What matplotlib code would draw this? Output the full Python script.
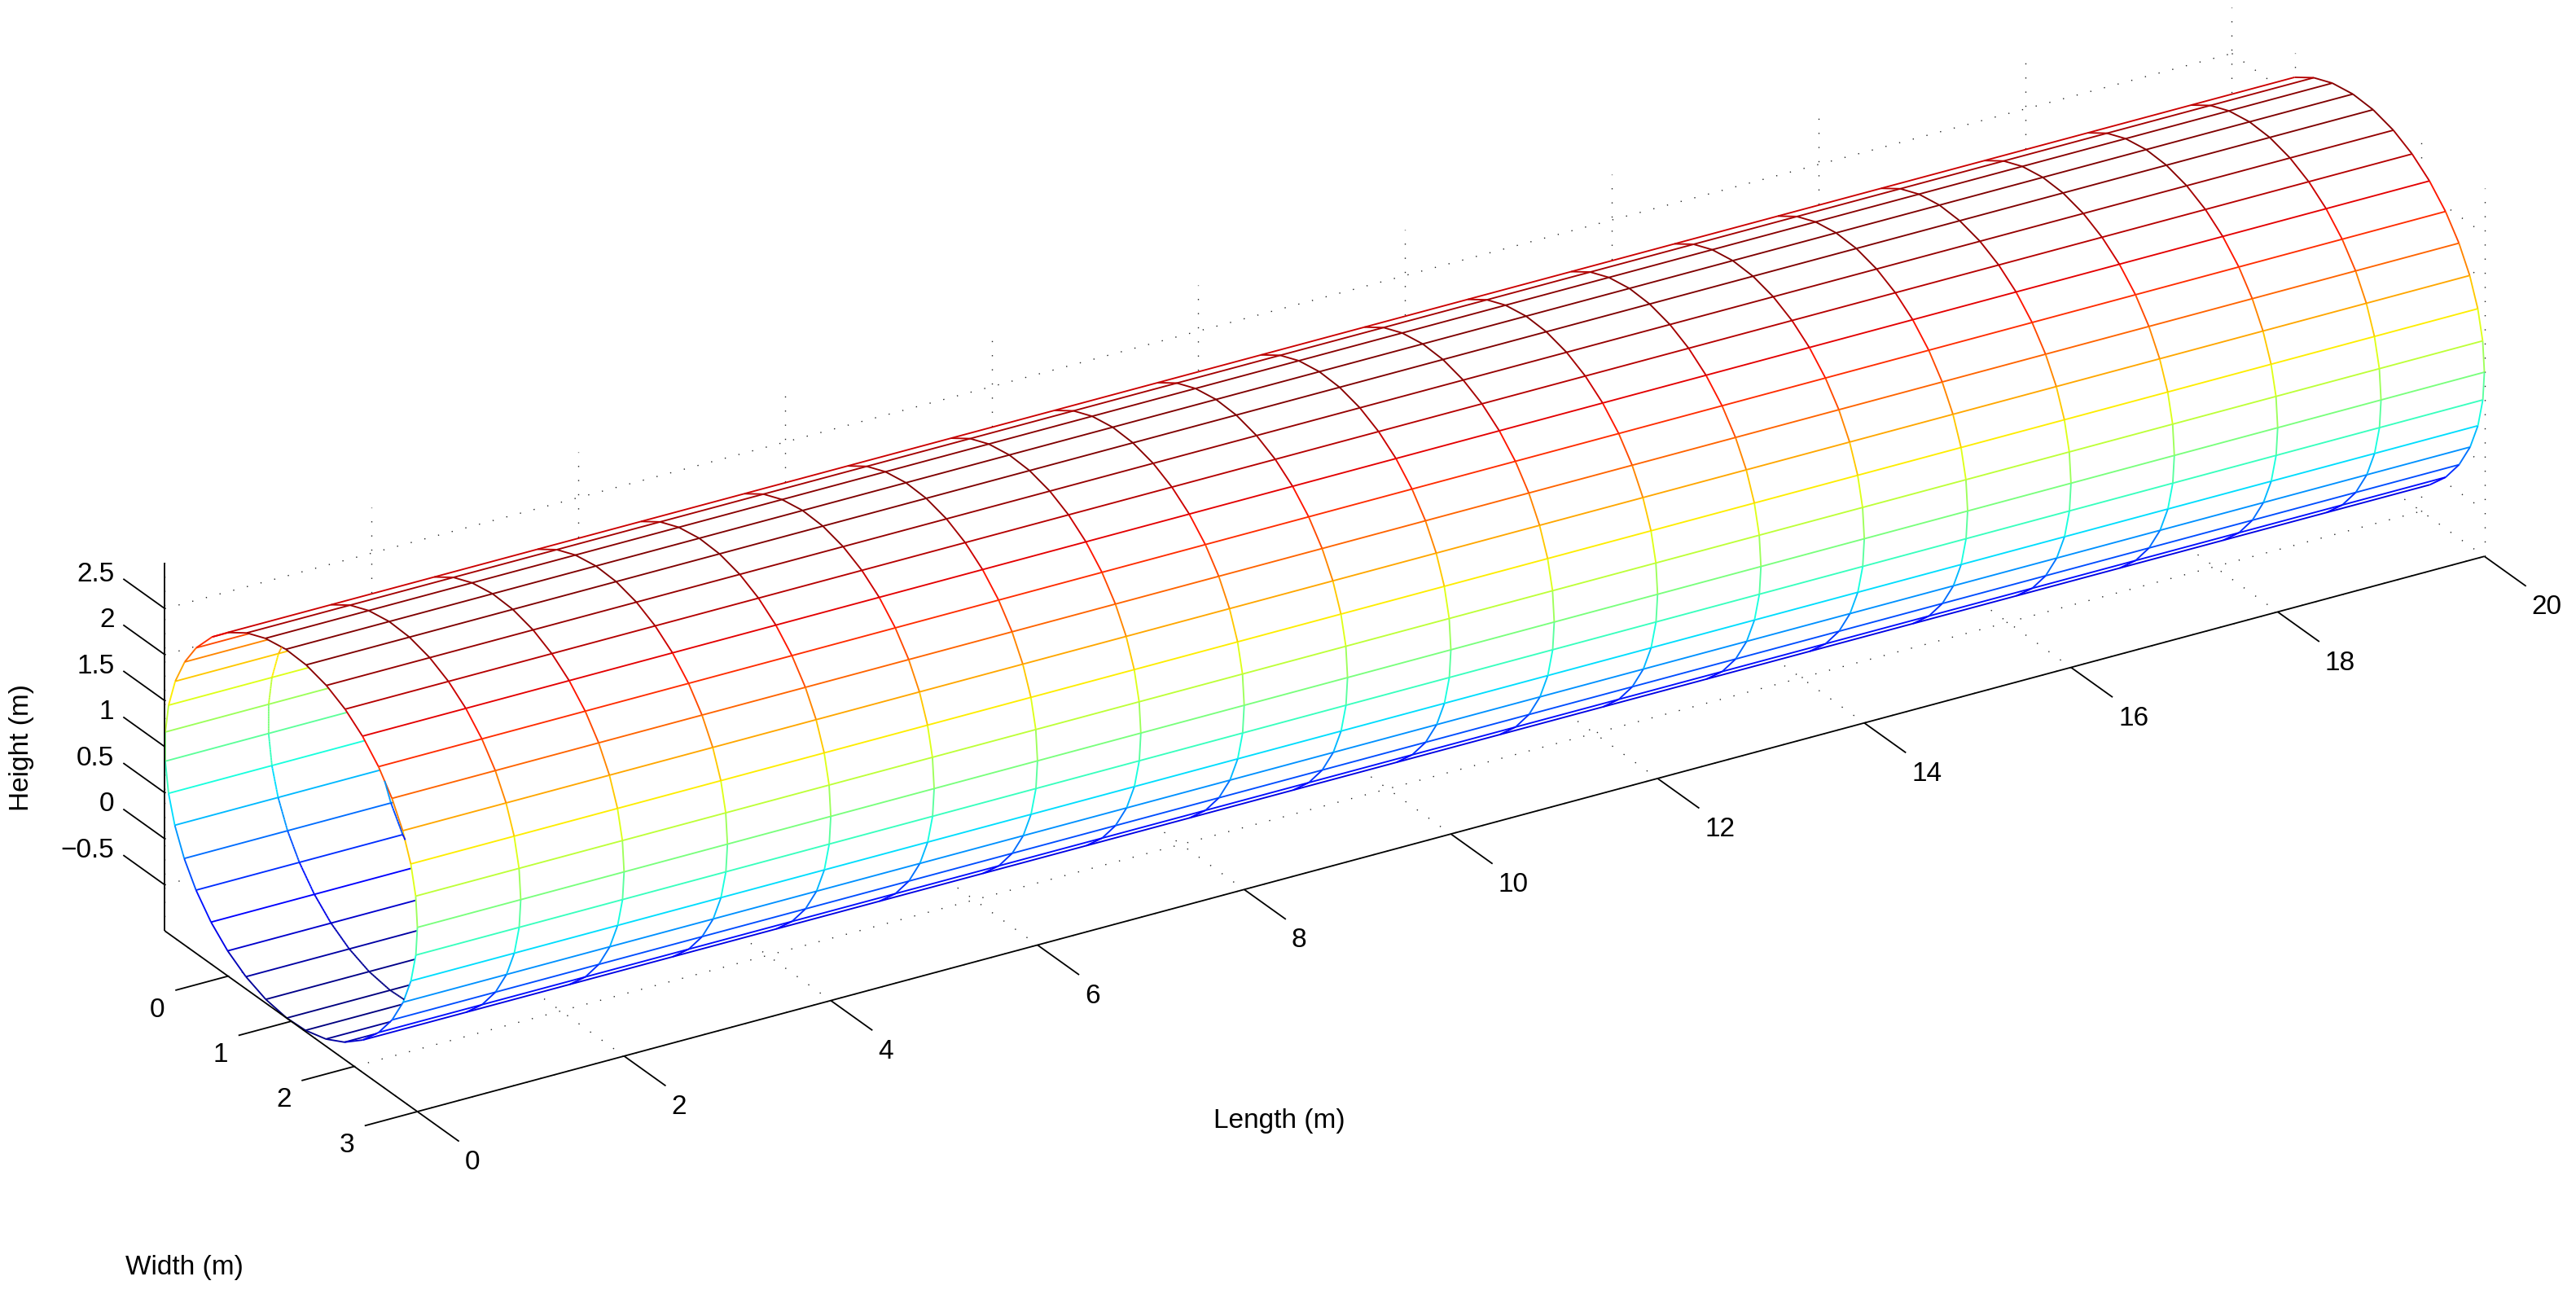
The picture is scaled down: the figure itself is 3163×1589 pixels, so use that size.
#!/usr/bin/env python
# -*- coding: utf-8 -*-
"""
Tunnel mesh: open cylinder seen from the x=0 end, lines coloured by height
"""

import numpy as np
import matplotlib
matplotlib.use('Agg')
import matplotlib.pyplot as plt
from mpl_toolkits.mplot3d import proj3d
from mpl_toolkits.mplot3d.art3d import Line3DCollection, Poly3DCollection

plt.rcParams['font.family'] = ['Liberation Sans', 'DejaVu Sans']

# ============ data ============
ring_x = [0, 1, 2, 3, 4, 5, 6, 7, 8, 9, 10, 11, 12, 13, 14, 15, 16, 17, 18, 19, 20]
# wall vertices, degrees from +z towards -y
wall_angle = [2.4, 11.8, 20.6, 30.2, 38.8, 48.8, 57.5, 66.7, 76.1, 85.3,
              94.4, 103.8, 112.8, 122.1, 131.1, 140.6, 149.8, 159.0, 168.4, 178.0,
              186.5, 196.0, 205.0, 214.6, 223.9, 233.1, 242.5, 251.6, 261.0, 270.0,
              279.4, 288.6, 297.9, 307.0, 316.2, 325.6, 334.7, 343.8, 353.2]
radius = 2.0
center_y = 1.0
center_z = 1.0

x_ticks = [0, 2, 4, 6, 8, 10, 12, 14, 16, 18, 20]
y_ticks = [0, 1, 2, 3]
z_ticks = [-0.5, 0, 0.5, 1, 1.5, 2, 2.5]
z_tick_labels = ['\u22120.5', '0', '0.5', '1', '1.5', '2', '2.5']

x_lim = (0, 20)
y_lim = (-1, 3)
z_lim = (-1, 3)

# towards the viewer, in data units, for x = -1
view_dir = np.array([-1.0, 1.637, 1.104])

# ============ figure ============
W, H = 3163, 1589
fig = plt.figure(figsize=(W / 100, H / 100), dpi=100, facecolor='white')
ax = fig.add_axes([0, 0, 1, 1], projection='3d', proj_type='ortho')
ax.computed_zorder = False
ax.set_xlim(*x_lim, view_margin=0)
ax.set_ylim(y_lim[1], y_lim[0], view_margin=0)
ax.set_zlim(*z_lim, view_margin=0)
ax.set_box_aspect((2975, 593, 503))
ax.view_init(elev=26, azim=238.5)
ax.set_axis_off()

theta = np.radians(wall_angle)
wall_y = center_y - radius * np.sin(theta)
wall_z = center_z + radius * np.cos(theta)
n_wall = len(theta)
front = -np.sin(theta) * view_dir[1] + np.cos(theta) * view_dir[2] > 0

cmap = plt.get_cmap('jet')
norm = plt.Normalize(z_lim[0], z_lim[1])


def through_opening(x, y, z):
    """inner wall point: can it be seen through the open x=0 end?"""
    dy = y + view_dir[1] * x - center_y
    dz = z + view_dir[2] * x - center_z
    return dy ** 2 + dz ** 2 <= radius ** 2


# dotted back walls
grid = []
for x in x_ticks:
    grid.append([(x, y_lim[0], z_lim[0]), (x, y_lim[0], z_lim[1])])
    grid.append([(x, y_lim[0], z_lim[0]), (x, y_lim[1], z_lim[0])])
for y in y_ticks:
    grid.append([(x_lim[0], y, z_lim[0]), (x_lim[1], y, z_lim[0])])
    grid.append([(x_lim[1], y, z_lim[0]), (x_lim[1], y, z_lim[1])])
for z in z_ticks:
    grid.append([(x_lim[0], y_lim[0], z), (x_lim[1], y_lim[0], z)])
    grid.append([(x_lim[1], y_lim[0], z), (x_lim[1], y_lim[1], z)])
ax.add_collection3d(Line3DCollection(grid, colors='#222222', linewidths=1.0,
                                     linestyles=[(0, (1, 11.5))], zorder=1, clip_on=False))

# white wall hides the grid behind the tunnel
quads = []
for i in range(n_wall):
    j = (i + 1) % n_wall
    quads.append([(x_lim[0], wall_y[i], wall_z[i]), (x_lim[1], wall_y[i], wall_z[i]),
                  (x_lim[1], wall_y[j], wall_z[j]), (x_lim[0], wall_y[j], wall_z[j])])
ax.add_collection3d(Poly3DCollection(quads, facecolors='white', edgecolors='white',
                                     linewidths=0.5, zorder=2, clip_on=False))

# mesh lines, only the parts that can be seen
segments = []
colors = []
for i in range(n_wall):
    y, z = wall_y[i], wall_z[i]
    if front[i]:
        x_end = x_lim[1]
    else:
        xs = np.linspace(x_lim[0], x_lim[1], 4001)
        x_end = xs[through_opening(xs, y, z)].max()
    if x_end > 0:
        segments.append([(x_lim[0], y, z), (x_end, y, z)])
        colors.append(cmap(norm(z)))

for x in ring_x:
    for i in range(n_wall):
        j = (i + 1) % n_wall
        ya, za, yb, zb = wall_y[i], wall_z[i], wall_y[j], wall_z[j]
        z_mid = (za + zb) / 2
        if x == ring_x[0] or (front[i] and front[j]):
            segments.append([(x, ya, za), (x, yb, zb)])
            colors.append(cmap(norm(z_mid)))
        else:
            ts = np.linspace(0, 1, 13)
            ps_y = ya + (yb - ya) * ts
            ps_z = za + (zb - za) * ts
            seen = through_opening(x, ps_y, ps_z)
            for k in range(len(ts) - 1):
                if seen[k] and seen[k + 1]:
                    segments.append([(x, ps_y[k], ps_z[k]), (x, ps_y[k + 1], ps_z[k + 1])])
                    colors.append(cmap(norm(z_mid)))
ax.add_collection3d(Line3DCollection(segments, colors=colors, linewidths=1.35,
                                     zorder=3, clip_on=False))

# axis lines and ticks
axis_lines = [
    [(x_lim[0], y_lim[1], z_lim[0]), (x_lim[1], y_lim[1], z_lim[0])],
    [(x_lim[0], y_lim[0], z_lim[0]), (x_lim[0], y_lim[1], z_lim[0])],
    [(x_lim[0], y_lim[0], z_lim[0]), (x_lim[0], y_lim[0], z_lim[1])],
]
for x in x_ticks:
    axis_lines.append([(x, y_lim[1], z_lim[0]), (x, y_lim[1] + 0.66, z_lim[0])])
for y in y_ticks:
    axis_lines.append([(x_lim[0], y, z_lim[0]), (x_lim[0] - 0.51, y, z_lim[0])])
for z in z_ticks:
    axis_lines.append([(x_lim[0], y_lim[0], z), (x_lim[0], y_lim[0] - 0.66, z)])
ax.add_collection3d(Line3DCollection(axis_lines, colors='black', linewidths=1.3,
                                     zorder=4, clip_on=False))

# tick labels
FS = 24
for x in x_ticks:
    ax.text(x, y_lim[1] + 0.75, z_lim[0] - 0.186, str(x), fontsize=FS,
            ha='left', va='center', zorder=5)
for y in y_ticks:
    ax.text(x_lim[0] - 0.683, y, z_lim[0] - 0.16, str(y), fontsize=FS,
            ha='center', va='center', zorder=5)
for z, lab in zip(z_ticks, z_tick_labels):
    ax.text(x_lim[0], y_lim[0] - 0.80, z - 0.017, lab, fontsize=FS,
            ha='right', va='center', zorder=5)

fig.text(226 / W, 1 - 1557 / H, 'Width (m)', fontsize=FS, ha='center', va='center')
fig.text(1571 / W, 1 - 1376 / H, 'Length (m)', fontsize=FS, ha='center', va='center')
fig.text(27 / W, 1 - 918 / H, 'Height (m)', fontsize=FS, ha='center', va='center',
         rotation=90)


# ============ place the box on the figure ============
def corner_px(x, y, z):
    fig.canvas.draw()
    px, py, _ = proj3d.proj_transform(x, y, z, ax.M)
    return ax.transData.transform((px, py))


target0 = np.array([512.5, H - 1365.0])      # x=0 end of the length axis
target1 = np.array([3050.5, H - 683.7])      # x=20 end
side = float(H)
left, bottom = (W - side) / 2, 0.0
ax.set_position([left / W, bottom / H, side / W, side / H])
p0 = corner_px(x_lim[0], y_lim[1], z_lim[0])
p1 = corner_px(x_lim[1], y_lim[1], z_lim[0])
side *= (target1[0] - target0[0]) / (p1[0] - p0[0])
ax.set_position([left / W, bottom / H, side / W, side / H])
p0 = corner_px(x_lim[0], y_lim[1], z_lim[0])
left += target0[0] - p0[0]
bottom += target0[1] - p0[1]
ax.set_position([left / W, bottom / H, side / W, side / H])

fig.savefig('out.png', dpi=100, facecolor='white')
